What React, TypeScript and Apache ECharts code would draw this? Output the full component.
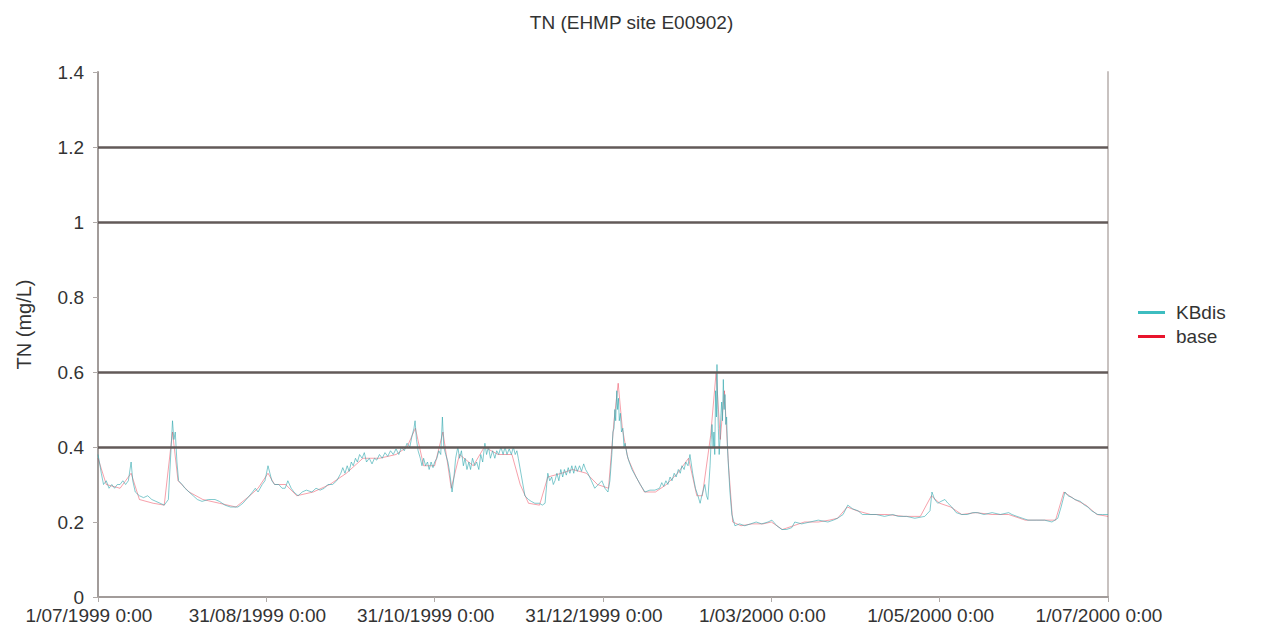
import React, { useEffect, useRef } from "react";
import * as echarts from "echarts";

// [days since 1/07/1999 0:00, TN mg/L]
const kbDis: [number, number][] = [
  [0,0.38],[0.5,0.36],[1.2,0.33],[2,0.30],[3,0.31],[4,0.29],[5,0.30],[6,0.29],[7,0.30],[8,0.30],[9,0.31],[10,0.30],[11,0.31],
  [12,0.36],[12.6,0.31],[13.5,0.28],[15,0.27],[16.5,0.265],[18,0.27],[19.5,0.26],[21,0.255],[22.5,0.25],[24,0.245],[25.5,0.26],
  [26.5,0.40],[27,0.47],[27.5,0.42],[28,0.44],[28.6,0.36],[29.2,0.31],[30.5,0.30],[31.5,0.29],[33,0.28],[34.5,0.27],[36,0.26],
  [37.7,0.255],[40,0.26],[42.4,0.26],[44,0.255],[46,0.245],[48,0.24],[50.7,0.24],[52.5,0.25],[54.3,0.265],[56,0.28],[57,0.29],
  [58,0.28],[59.5,0.30],[60.5,0.31],[61.6,0.35],[62.3,0.33],[63,0.31],[64,0.30],[65.5,0.30],[66.7,0.29],[67.8,0.29],[68.8,0.31],
  [70,0.29],[71,0.28],[72.5,0.27],[74,0.28],[75.5,0.285],[77.5,0.28],[79,0.29],[80.5,0.285],[82,0.29],[83.3,0.30],[85,0.30],
  [86.5,0.31],[88,0.33],[88.7,0.345],[89.5,0.33],[90.3,0.35],[91,0.335],[91.8,0.36],[92.5,0.35],[93.3,0.37],[94,0.36],[94.8,0.38],
  [95.7,0.37],[96.5,0.385],[97.3,0.36],[98.3,0.37],[99.3,0.355],[100.2,0.37],[101,0.365],[102,0.38],[103,0.37],[104,0.385],
  [105,0.375],[106,0.39],[107,0.38],[108,0.395],[109,0.38],[110,0.40],[111,0.39],[112,0.41],[113,0.40],[113.8,0.43],[114.5,0.45],
  [114.9,0.47],[115.4,0.42],[116,0.39],[116.8,0.37],[117.4,0.35],[118,0.37],[118.7,0.35],[119.4,0.36],[120,0.34],[120.7,0.36],
  [121.4,0.345],[122,0.36],[122.8,0.37],[123.5,0.39],[124.2,0.38],[124.8,0.48],[125.3,0.40],[126,0.38],[126.8,0.36],[127.5,0.33],
  [128.3,0.28],[129,0.32],[129.6,0.37],[130.4,0.40],[131,0.37],[131.7,0.39],[132.4,0.35],[133,0.37],[133.7,0.34],[134.4,0.36],
  [135,0.34],[135.7,0.37],[136.5,0.35],[137.2,0.36],[138,0.34],[138.7,0.38],[139.4,0.36],[140.2,0.41],[140.8,0.38],[141.5,0.40],
  [142.2,0.37],[143,0.39],[143.8,0.37],[144.5,0.39],[145.2,0.38],[146,0.40],[146.8,0.38],[147.5,0.40],[148.2,0.38],[149,0.395],
  [149.8,0.38],[150.5,0.40],[151.2,0.38],[151.8,0.39],[152.3,0.37],[153.5,0.32],[154.7,0.27],[156,0.26],[157,0.255],[158.3,0.25],
  [160,0.25],[161,0.245],[162,0.25],[162.6,0.30],[163,0.33],[163.7,0.31],[164.4,0.32],[165,0.30],[165.6,0.31],[166.3,0.33],
  [167,0.31],[167.7,0.34],[168.4,0.32],[169,0.34],[169.7,0.325],[170.4,0.345],[171,0.33],[171.7,0.35],[172.4,0.33],[173,0.35],
  [173.7,0.335],[174.5,0.35],[175.2,0.335],[176,0.355],[176.7,0.34],[177.5,0.33],[178.8,0.31],[180,0.29],[181.3,0.30],[182.6,0.31],
  [183.7,0.29],[184.8,0.28],[185.5,0.31],[186.2,0.38],[186.6,0.44],[187,0.45],[187.3,0.50],[187.6,0.47],[188,0.55],[188.3,0.50],
  [188.6,0.53],[188.9,0.47],[189.3,0.49],[189.7,0.44],[190.2,0.45],[190.6,0.40],[191,0.41],[191.7,0.38],[192.5,0.36],[193.5,0.34],
  [195,0.32],[196.5,0.30],[198.2,0.28],[200,0.285],[201.8,0.285],[203.5,0.29],[204.3,0.305],[205,0.295],[205.8,0.31],[206.5,0.30],
  [207.3,0.32],[208,0.31],[208.8,0.33],[209.5,0.32],[210.3,0.34],[211,0.33],[211.6,0.35],[212.4,0.34],[213,0.36],[213.8,0.35],
  [214.5,0.38],[215.5,0.33],[216.5,0.29],[217.4,0.27],[218.2,0.25],[218.8,0.27],[219.9,0.30],[220.5,0.27],[221,0.26],[221.8,0.35],
  [222.2,0.42],[222.5,0.46],[222.9,0.40],[223.2,0.44],[223.5,0.38],[223.8,0.55],[224.1,0.48],[224.3,0.62],[224.6,0.50],[224.8,0.45],
  [225.1,0.38],[225.4,0.42],[225.7,0.48],[226,0.52],[226.3,0.47],[226.6,0.58],[226.9,0.50],[227.2,0.54],[227.5,0.46],[227.8,0.48],
  [228.1,0.40],[228.3,0.37],[229,0.28],[229.7,0.22],[230.8,0.19],[232.5,0.195],[234.4,0.19],[236.5,0.195],[238.5,0.20],[240.5,0.195],
  [242.8,0.20],[244.2,0.205],[246,0.19],[247.8,0.18],[249.5,0.18],[251.4,0.185],[252.5,0.20],[255,0.195],[258,0.20],[261,0.205],
  [264.5,0.20],[266.5,0.205],[268,0.21],[270,0.22],[271.7,0.245],[273.5,0.235],[275.4,0.23],[277,0.22],[279,0.22],[282,0.22],
  [285,0.215],[288,0.22],[290,0.215],[293,0.215],[296,0.21],[299.6,0.215],[301.5,0.23],[302.2,0.28],[303.2,0.26],[304.3,0.25],
  [305.5,0.255],[306.9,0.26],[308,0.25],[309.4,0.24],[311,0.225],[313,0.22],[315,0.22],[317,0.225],[318.8,0.225],[321,0.22],
  [324,0.225],[327,0.22],[330,0.225],[331.2,0.22],[333,0.215],[335,0.21],[337,0.205],[340,0.205],[343,0.205],[345.7,0.20],
  [347.8,0.21],[349,0.24],[350.4,0.28],[351.5,0.27],[353,0.265],[354,0.26],[356,0.255],[357.5,0.245],[358.7,0.24],[360,0.23],
  [362.3,0.22],[364,0.22],[366,0.22],
];

const base: [number, number][] = [
  [0,0.37],[3,0.30],[8,0.29],[12,0.33],[15,0.26],[20,0.25],[24,0.245],[27,0.44],[29,0.31],[33,0.28],[38,0.26],[44,0.25],[50,0.24],
  [55,0.27],[58,0.29],[61.6,0.33],[64,0.30],[68,0.30],[72,0.27],[78,0.28],[84,0.30],[90,0.33],[96,0.37],[102,0.37],[108,0.38],
  [112,0.40],[115,0.45],[118,0.35],[122,0.35],[125,0.44],[128,0.29],[131,0.38],[136,0.35],[140,0.40],[145,0.38],[150,0.38],
  [153,0.30],[156,0.25],[160,0.245],[163,0.32],[168,0.33],[172,0.34],[177,0.33],[181,0.30],[185,0.29],[187,0.47],[188.5,0.57],
  [190,0.45],[192,0.37],[195,0.32],[198,0.28],[202,0.28],[206,0.30],[210,0.33],[214,0.37],[217,0.27],[219,0.27],[222,0.43],
  [224,0.60],[225.5,0.42],[227,0.55],[228.5,0.35],[230,0.20],[233,0.19],[237,0.195],[241,0.195],[244,0.20],[248,0.18],[252,0.19],
  [256,0.20],[261,0.20],[265,0.205],[268,0.21],[271.5,0.24],[275,0.23],[280,0.22],[286,0.22],[292,0.215],[298,0.215],[302,0.27],
  [305,0.25],[309,0.24],[313,0.22],[318,0.225],[324,0.22],[330,0.22],[336,0.205],[342,0.205],[347,0.205],[350,0.28],[354,0.26],
  [358,0.245],[362,0.22],[366,0.215],
];

const thresholds = [0.4, 0.6, 1.0, 1.2];
const seriesNames = ["KBdis", "base"];
const seriesColors = ["#3dbdc0", "#e8142c"];

const START = Date.UTC(1999, 6, 1);
const fmtDay = (d: number) => {
  const dt = new Date(START + Math.round(d) * 86400000);
  const mm = String(dt.getUTCMonth() + 1).padStart(2, "0");
  return `${dt.getUTCDate()}/${mm}/${dt.getUTCFullYear()} 0:00`;
};

export default function App() {
  const ref = useRef<HTMLDivElement>(null);
  useEffect(() => {
    document.body.style.margin = "0";
    const chart = echarts.init(ref.current!, null, { renderer: "svg" });
    const font = "'Liberation Sans', Arial, sans-serif";
    chart.setOption({
      animation: false,
      backgroundColor: "#ffffff",
      title: {
        text: "TN (EHMP site E00902)",
        left: "center",
        top: 8,
        textStyle: { fontFamily: font, fontSize: 19, fontWeight: "normal", color: "#333" },
      },
      legend: {
        orient: "vertical",
        left: 1133,
        top: 298,
        itemWidth: 27,
        itemHeight: 3,
        itemGap: 5,
        icon: "rect",
        textStyle: { fontFamily: font, fontSize: 19, color: "#333", padding: [0, 0, 0, 6] },
        data: seriesNames.map((n, i) => ({ name: n, itemStyle: { color: seriesColors[i], opacity: 1 } })),
      },
      grid: { left: 98, right: 155, top: 72, bottom: 32 },
      xAxis: {
        type: "value",
        min: 0,
        max: 366,
        interval: 61,
        axisLine: { show: true, lineStyle: { color: "#a29c9a", width: 2 } },
        axisTick: { show: true, length: 5, lineStyle: { color: "#b0aaa8" } },
        splitLine: { show: false },
        axisLabel: {
          formatter: (v: number) => fmtDay(v),
          fontFamily: font,
          fontSize: 19,
          lineHeight: 19,
          color: "#333",
          margin: 9,
          padding: [0, 18, 0, 0],
          showMaxLabel: true,
          showMinLabel: true,
        },
      },
      yAxis: [
        {
          type: "value",
          min: 0,
          max: 1.4,
          interval: 0.2,
          name: "TN (mg/L)",
          nameLocation: "middle",
          nameGap: 64,
          nameTextStyle: { fontFamily: font, fontSize: 20, color: "#333", padding: [0, 0, 0, 20] },
          axisLine: { show: true, lineStyle: { color: "#a29c9a", width: 2 } },
          axisTick: { show: true, length: 5, lineStyle: { color: "#b0aaa8" } },
          splitLine: { show: false },
          axisLabel: { fontFamily: font, fontSize: 19, lineHeight: 19, color: "#333", margin: 14 },
        },
        {
          type: "value",
          min: 0,
          max: 1.4,
          interval: 0.2,
          position: "right",
          axisLine: { show: true, lineStyle: { color: "#c8c2c0", width: 2 } },
          axisTick: { show: false },
          axisLabel: { show: false },
          splitLine: { show: false },
        },
      ],
      series: [
        {
          name: "base",
          type: "line",
          data: base,
          showSymbol: false,
          z: 2,
          itemStyle: { color: seriesColors[1] },
          lineStyle: { color: seriesColors[1], width: 1, opacity: 0.4 },
        },
        {
          name: "KBdis",
          type: "line",
          data: kbDis,
          showSymbol: false,
          z: 3,
          itemStyle: { color: seriesColors[0] },
          lineStyle: { color: "#2fa6ae", width: 1, opacity: 0.6 },
          markLine: {
            silent: true,
            symbol: "none",
            label: { show: false },
            lineStyle: { color: "#625a58", width: 2.5, type: "solid" },
            data: thresholds.map((t) => ({ yAxis: t })),
          },
        },
      ],
    });
    return () => chart.dispose();
  }, []);
  return <div ref={ref} style={{ width: 1263, height: 629 }} />;
}
